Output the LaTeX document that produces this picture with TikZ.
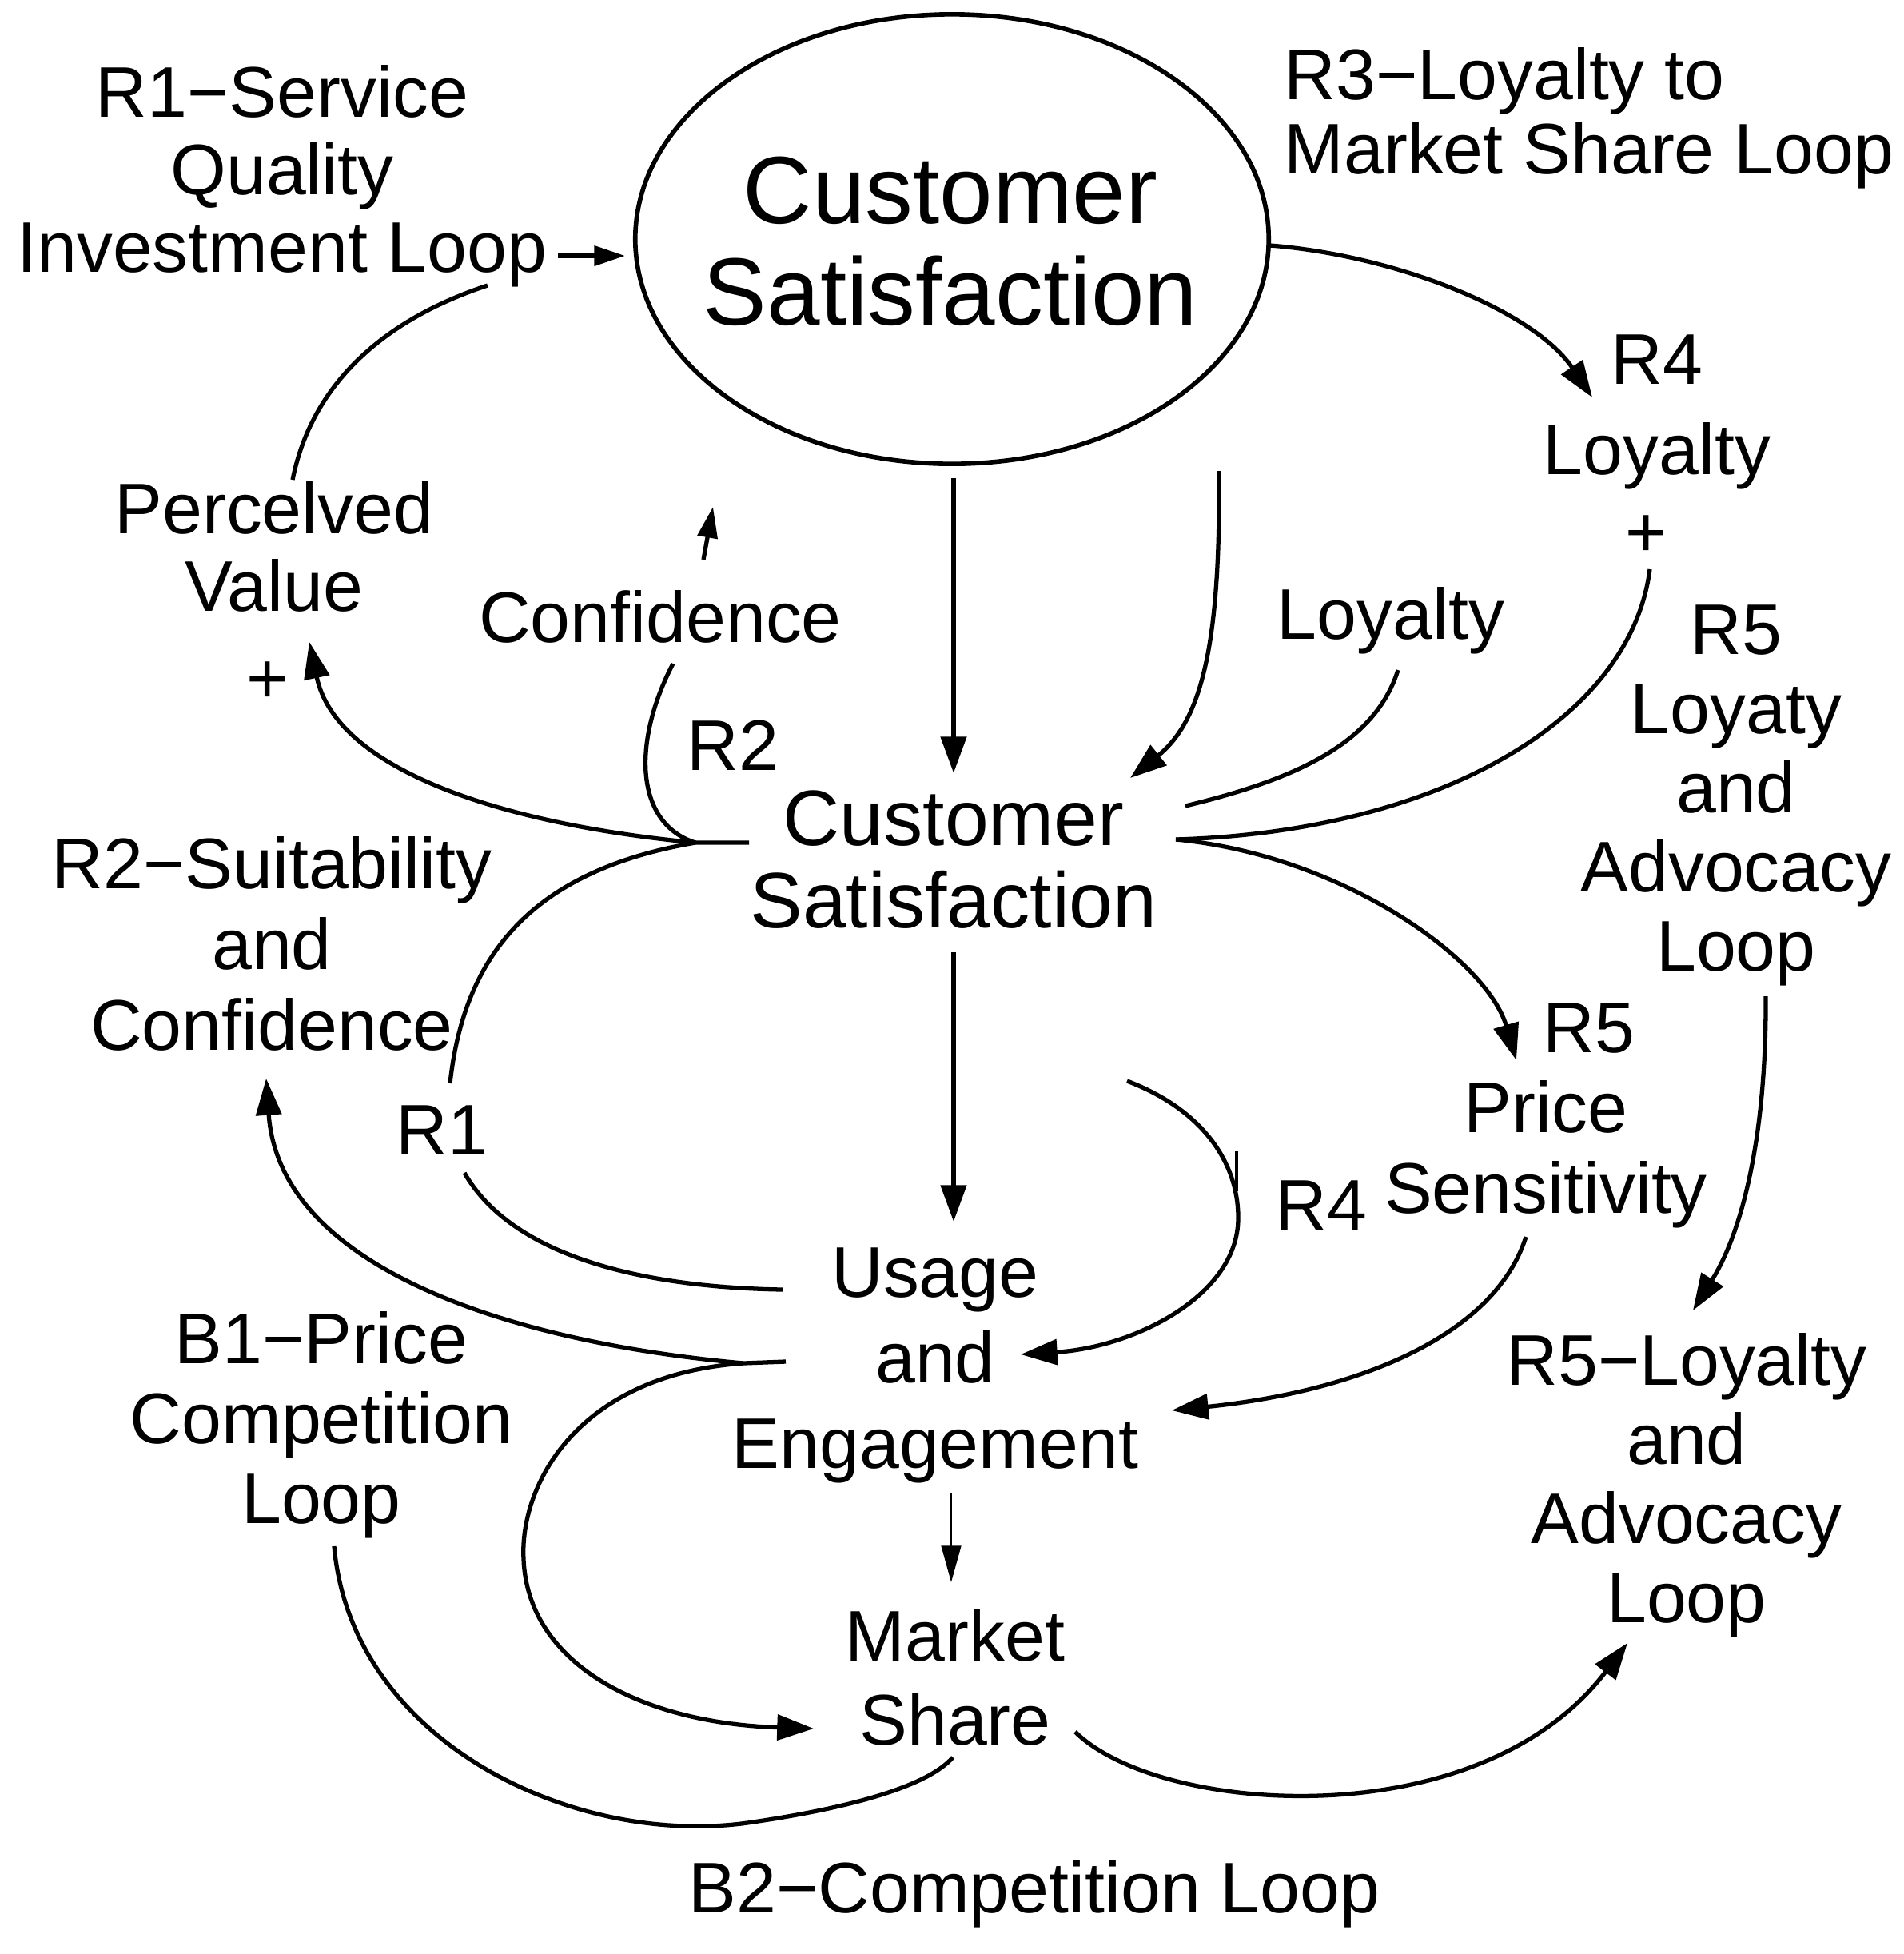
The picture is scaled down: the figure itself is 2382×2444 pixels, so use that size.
\documentclass[tikz,border=0pt]{standalone}
\usepackage{fontspec}
\setmainfont{Liberation Sans}
\usetikzlibrary{arrows.meta,shapes.geometric}
\begin{document}
\begin{tikzpicture}[x=0.01cm,y=-0.01cm,
  lbl/.style={align=center,inner sep=0pt,font=\fontsize{25.5}{27.8}\selectfont},
  conn/.style={line width=1.5pt},
  arr/.style={conn,-{Triangle[length=13pt,width=9pt]}},
  thin arr/.style={line width=0.8pt,-{Triangle[length=13pt,width=7pt]}},
  small arr/.style={conn,-{Triangle[length=11pt,width=7pt]}},
]
\useasboundingbox (0,0) rectangle (2382,2444);

% ---------- nodes ----------
\node[draw,ellipse,line width=1.6pt,minimum width=7.92cm,minimum height=5.62cm,inner sep=0pt] (cs1) at (1191,299) {};
\node[align=center,inner sep=0pt,font=\fontsize{34}{36}\selectfont] (cs1t) at (1189,302) {Customer\\Satisfaction};

\node[lbl,font=\fontsize{25.5}{27.6}\selectfont] (r1) at (353,220) {R1−Service\\Quality\\Investment Loop};
\node[lbl,align=left,anchor=west,font=\fontsize{25.5}{26.6}\selectfont] (r3) at (1606,148) {R3−Loyalty to\\Market Share Loop};
\node[lbl] (r4a) at (2073,450) {R4};
\node[lbl] (loy1) at (2073,570) {Loyalty};
\node[lbl] (plus1) at (2060,671) {+};
\node[lbl,font=\fontsize{25.5}{28.1}\selectfont] (r5blk) at (2172,995) {R5\\Loyaty\\and\\Advocacy\\Loop};
\node[lbl,font=\fontsize{25.5}{27.5}\selectfont] (pv) at (343,684) {Percelved\\Value};
\node[lbl] (plus2) at (335,854) {+};
\node[lbl] (conf) at (826,771) {Confidence};
\node[lbl] (loy2) at (1740,776) {Loyalty};
\node[lbl] (r2a) at (917,932) {R2};
\node[lbl,font=\fontsize{28}{29.2}\selectfont] (cs2) at (1193,1075) {Customer\\Satisfaction};
\node[lbl,font=\fontsize{25.5}{28.7}\selectfont] (r2s) at (340,1180) {R2−Suitability\\and\\Confidence};
\node[lbl] (r1b) at (553,1414) {R1};
\node[lbl] (r4b) at (1653,1508) {R4};
\node[lbl] (r5c) at (1988,1286) {R5};
\node[lbl,font=\fontsize{25.5}{28.8}\selectfont] (ps) at (1934,1444) {Price\\Sensitivity};
\node[lbl,font=\fontsize{25.5}{30.5}\selectfont] (usage) at (1170,1708) {Usage\\and\\Engagement};
\node[lbl,font=\fontsize{25.5}{28.4}\selectfont] (b1) at (402,1782) {B1−Price\\Competition\\Loop};
\node[lbl,font=\fontsize{25.5}{30}\selectfont] (ms) at (1195,2098) {Market\\Share};
\node[lbl,font=\fontsize{25.5}{28.1}\selectfont] (r5l) at (2110,1858) {R5−Loyalty\\and\\Advocacy\\Loop};
\node[lbl] (b2) at (1294,2369) {B2−Competition Loop};

% ---------- connector end points ----------
\coordinate (a1s) at (698,320);   \coordinate (a1e) at (782,320);
\coordinate (pvtop) at (366,600); \coordinate (r1bot) at (610,357);
\coordinate (cs1r) at (1589,307); \coordinate (r4tip) at (1992,497);
\coordinate (cs1b) at (1193,598); \coordinate (cs2t) at (1193,967);
\coordinate (cs1br) at (1525,589); \coordinate (cs2tr) at (1414,973);
\coordinate (loy2b) at (1749,838); \coordinate (cs2r1) at (1483,1008);
\coordinate (plus1b) at (2064,712); \coordinate (jR) at (1471,1050);
\coordinate (pstip) at (1897,1326);
\coordinate (jL) at (937,1054);  \coordinate (jL1) at (870,1054);
\coordinate (pvtip) at (387,803);
\coordinate (confb) at (842,830);
\coordinate (r1up) at (563,1355);
\coordinate (r1lo) at (581,1467); \coordinate (usl) at (979,1613);
\coordinate (cs2b) at (1193,1191); \coordinate (ust) at (1193,1528);
\coordinate (r4s) at (1410,1352); \coordinate (r4m) at (1549,1525); \coordinate (engtip) at (1277,1694);
\coordinate (tk1) at (1547,1440); \coordinate (tk2) at (1547,1490);
\coordinate (psb) at (1909,1547); \coordinate (eng2tip) at (1466,1764);
\coordinate (jU) at (983,1703); \coordinate (jU1) at (930,1705);
\coordinate (r2stip) at (333,1349);
\coordinate (msl) at (655,1950); \coordinate (mstip) at (1018,2162);
\coordinate (engb) at (1190,1868); \coordinate (mst) at (1190,1979);
\coordinate (b1b) at (418,1934); \coordinate (b2low) at (935,2280); \coordinate (msb) at (1192,2198);
\coordinate (msr) at (1345,2166); \coordinate (r5ltip) at (2036,2055);
\coordinate (r5bb) at (2209,1246); \coordinate (r5ltop) at (2118,1639);
\coordinate (confa) at (880,700); \coordinate (confat) at (892,634);

% ---------- connectors ----------
\draw[small arr] (a1s) -- (a1e);
\draw[conn] (pvtop) .. controls (390,480) and (480,400) .. (r1bot);
\draw[arr] (cs1r) .. controls (1750,320) and (1920,390) .. (r4tip);
\draw[arr,line width=1.7pt] (cs1b) -- (cs2t);
\draw[arr] (cs1br) .. controls (1527,800) and (1505,900) .. (cs2tr);
\draw[conn] (loy2b) .. controls (1720,930) and (1620,975) .. (cs2r1);
\draw[conn] (plus1b) .. controls (2040,900) and (1800,1040) .. (jR);
\draw[arr] (jR) .. controls (1680,1070) and (1860,1200) .. (pstip);
\draw[arr] (jL) -- (jL1) .. controls (620,1030) and (420,960) .. (pvtip);
\draw[conn] (jL1) .. controls (795,1030) and (790,930) .. (confb);
\draw[conn] (jL1) .. controls (660,1090) and (580,1200) .. (r1up);
\draw[conn] (r1lo) .. controls (640,1570) and (800,1610) .. (usl);
\draw[arr,line width=1.7pt] (cs2b) -- (ust);
\draw[arr] (r4s) .. controls (1510,1390) and (1550,1460) .. (r4m) .. controls (1548,1620) and (1420,1685) .. (engtip);
\draw[line width=1.1pt] (tk1) -- (tk2);
\draw[arr] (psb) .. controls (1870,1670) and (1700,1740) .. (eng2tip);
\draw[arr] (jU) -- (jU1) .. controls (650,1680) and (350,1590) .. (r2stip);
\draw[arr] (jU1) .. controls (720,1720) and (650,1860) .. (msl) .. controls (660,2080) and (800,2155) .. (mstip);
\draw[thin arr] (engb) -- (mst);
\draw[conn] (b1b) .. controls (440,2180) and (720,2310) .. (b2low) .. controls (1060,2262) and (1160,2235) .. (msb);
\draw[arr] (msr) .. controls (1450,2270) and (1850,2300) .. (r5ltip);
\draw[arr] (r5bb) .. controls (2210,1420) and (2180,1540) .. (r5ltop);
\draw[small arr] (confa) -- (confat);
\end{tikzpicture}
\end{document}
